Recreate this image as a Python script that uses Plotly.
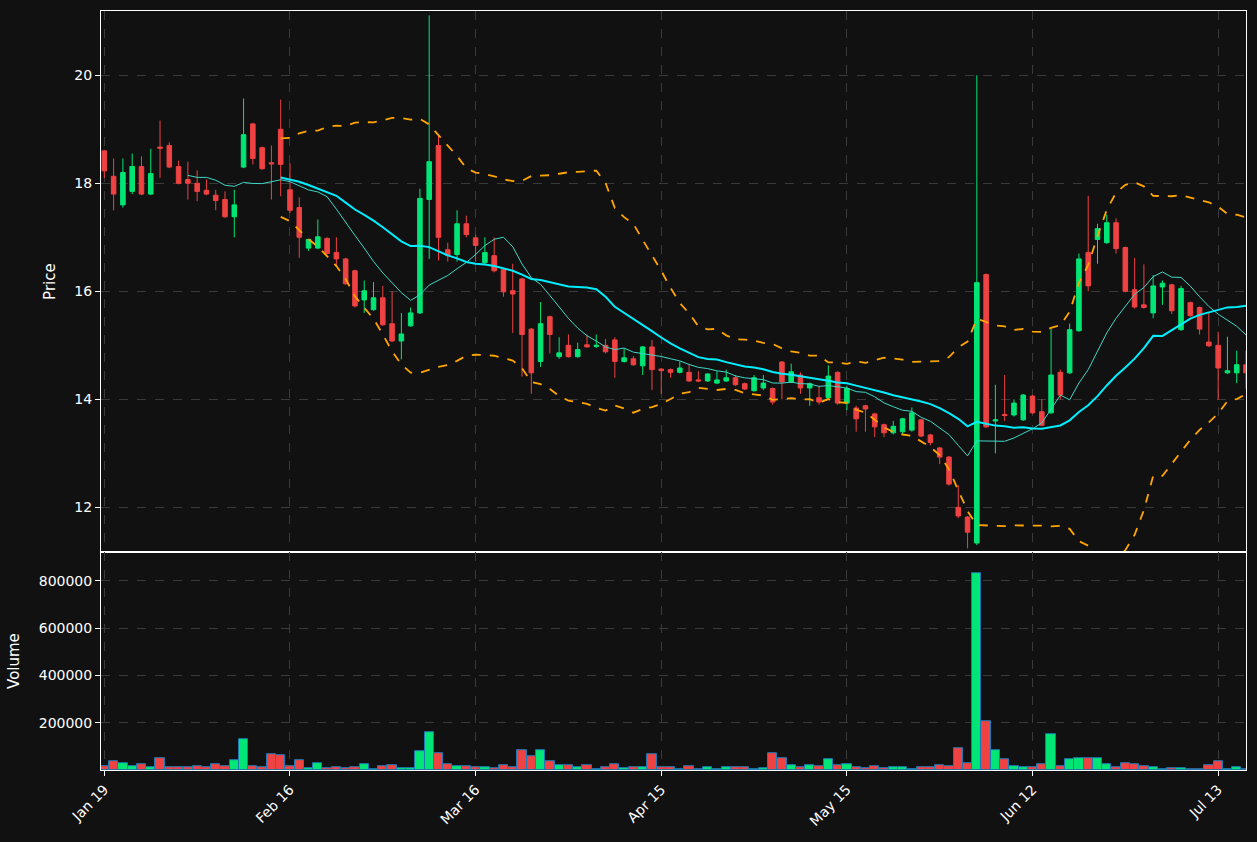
import plotly.graph_objects as go
from plotly.subplots import make_subplots
import pandas as pd

opens = [18.60,18.13,17.60,17.85,18.31,17.80,18.67,18.70,18.31,18.07,18.00,17.87,17.78,17.70,17.38,18.30,19.10,18.66,18.38,19.00,
 17.88,17.55,16.80,16.80,16.98,16.72,16.60,16.38,15.84,15.66,15.88,15.40,15.08,15.36,15.60,17.70,18.70,16.77,16.68,17.25,
 16.99,16.53,16.66,16.40,16.01,16.23,15.30,14.70,15.53,14.79,15.00,14.79,15.01,14.98,15.00,15.10,14.70,14.75,14.62,14.97,
 14.56,14.55,14.50,14.50,14.36,14.34,14.30,14.34,14.40,14.29,14.16,14.21,14.20,14.69,14.32,14.45,14.21,14.03,14.03,14.50,
 13.93,13.84,13.88,13.73,13.53,13.38,13.40,13.43,13.62,13.34,13.10,12.93,12.00,11.82,11.34,16.31,13.60,13.72,13.71,13.62,
 14.06,13.77,13.75,14.50,14.49,15.27,16.72,16.96,16.90,17.27,16.81,16.03,15.75,15.60,16.08,16.12,15.29,15.79,15.70,15.06,
 15.00,14.49,14.49,14.64]
highs = [18.62,18.46,18.46,18.55,18.50,18.64,19.16,18.76,18.42,18.40,18.24,18.07,17.88,17.85,17.88,19.57,19.12,18.68,18.70,19.55,
 18.37,17.74,16.97,17.33,17.00,17.00,16.62,16.40,16.20,16.17,16.10,16.00,15.60,15.70,17.90,21.11,18.90,16.90,17.50,17.40,
 17.05,17.00,17.00,16.42,16.51,16.25,15.32,15.80,15.55,15.15,15.20,15.05,15.20,15.20,15.12,15.15,14.95,14.80,14.99,15.10,
 14.58,14.57,14.70,14.65,14.52,14.48,14.52,14.55,14.45,14.31,14.45,14.45,14.22,14.71,14.66,14.50,14.31,14.25,14.63,14.52,
 14.25,13.88,13.90,13.75,13.55,13.60,13.66,13.85,13.64,13.36,13.12,12.95,12.41,11.84,20.00,16.33,14.27,14.45,14.00,14.10,
 14.08,14.00,15.31,14.55,15.40,16.70,17.77,17.25,17.42,17.35,16.83,16.62,16.50,16.30,16.20,16.14,16.10,15.81,15.72,15.60,
 15.25,15.16,14.90,14.90]
lows = [18.10,17.50,17.55,17.80,17.78,17.78,18.10,18.28,17.98,17.70,17.67,17.78,17.50,17.36,17.00,18.28,18.35,18.25,17.70,17.76,
 17.45,16.62,16.75,16.78,16.68,16.46,16.12,15.70,15.60,15.64,15.36,15.06,14.74,15.34,15.58,16.60,16.57,16.55,16.55,17.00,
 16.55,16.50,16.35,15.90,15.23,14.42,14.10,14.60,14.85,14.75,14.77,14.77,14.96,14.95,14.85,14.40,14.68,14.62,14.45,14.17,
 14.10,14.40,14.48,14.32,14.32,14.32,14.28,14.32,14.25,14.17,14.14,14.17,13.90,14.00,14.30,14.10,13.88,13.90,14.00,13.90,
 13.80,13.40,13.40,13.30,13.30,13.35,13.35,13.40,13.30,13.15,12.80,12.40,11.80,11.24,11.30,13.47,13.00,13.60,13.68,13.60,
 13.73,13.50,13.73,14.00,14.47,15.25,16.00,16.51,16.88,16.70,15.98,15.68,15.68,15.50,15.75,15.58,15.27,15.53,15.20,14.97,
 13.99,14.47,14.30,14.20]
closes = [18.23,17.80,18.20,18.31,17.80,18.18,18.65,18.30,18.00,18.00,17.85,17.80,17.68,17.38,17.60,18.90,18.46,18.27,18.36,18.35,
 17.50,17.00,16.96,17.01,16.70,16.60,16.14,15.73,16.01,15.88,15.38,15.08,15.21,15.60,17.72,18.40,17.00,16.66,17.25,17.05,
 16.85,16.72,16.38,15.99,15.95,15.20,14.49,15.40,15.20,14.86,14.79,14.92,14.97,15.00,14.88,14.70,14.77,14.64,14.97,14.55,
 14.53,14.50,14.58,14.34,14.34,14.47,14.36,14.40,14.27,14.19,14.40,14.30,13.95,14.32,14.51,14.21,14.29,13.95,14.43,13.93,
 14.20,13.64,13.82,13.49,13.38,13.50,13.64,13.75,13.32,13.20,12.93,12.43,11.84,11.54,16.16,13.49,13.62,13.70,13.93,14.08,
 13.75,13.52,14.45,14.08,15.29,16.60,16.10,17.16,17.27,16.79,16.00,15.71,15.70,16.10,16.15,15.64,16.05,15.55,15.30,14.99,
 14.58,14.53,14.64,14.49]
volumes = [17000,36000,27000,18000,23000,13000,48000,14000,10000,14000,18000,10000,23000,18000,40000,129000,18000,10000,65000,61000,
 18000,40000,6000,27000,8000,14000,8000,11000,23000,5000,16000,20000,7000,7000,78000,159000,70000,23000,16000,16000,
 11000,11000,7000,20000,11000,82000,57000,82000,36000,20000,20000,11000,20000,4000,11000,24000,7000,11000,11000,65000,
 11000,11000,4000,16000,4000,11000,4000,11000,11000,11000,3000,7000,71000,50000,20000,11000,20000,16000,46000,20000,
 24000,11000,7000,16000,7000,11000,11000,3000,11000,11000,20000,16000,93000,29000,834000,205000,84000,46000,16000,11000,
 11000,24000,153000,16000,46000,50000,50000,50000,24000,11000,29000,24000,16000,11000,3000,7000,7000,3000,3000,20000,
 37000,3000,11000,3000]
tick_idx = [0, 20, 40, 60, 80, 100, 120]
tick_labels = ["Jan 19", "Feb 16", "Mar 16", "Apr 15", "May 15", "Jun 12", "Jul 13"]

idx = list(range(len(closes)))
s = pd.Series(closes)
ma10 = s.rolling(10).mean()
ma20 = s.rolling(20).mean()
sd20 = s.rolling(20).std(ddof=0)
upper = ma20 + 2 * sd20
lower = ma20 - 2 * sd20

UP, DN = "#00e676", "#ef4242"
vol_colors = [UP if c >= o else DN for o, c in zip(opens, closes)]

fig = make_subplots(rows=2, cols=1, shared_xaxes=True, vertical_spacing=0,
                    row_heights=[0.713, 0.287])
fig.add_trace(go.Candlestick(x=idx, open=opens, high=highs, low=lows, close=closes,
    increasing=dict(line=dict(color=UP, width=1), fillcolor=UP),
    decreasing=dict(line=dict(color=DN, width=1), fillcolor=DN),
    whiskerwidth=0, showlegend=False), row=1, col=1)
fig.add_trace(go.Scatter(x=idx, y=upper, mode="lines", line=dict(color="#ffa500", width=1.8, dash="dash"), showlegend=False), row=1, col=1)
fig.add_trace(go.Scatter(x=idx, y=lower, mode="lines", line=dict(color="#ffa500", width=1.8, dash="dash"), showlegend=False), row=1, col=1)
fig.add_trace(go.Scatter(x=idx, y=ma10, mode="lines", line=dict(color="#40d8c8", width=1), showlegend=False), row=1, col=1)
fig.add_trace(go.Scatter(x=idx, y=ma20, mode="lines", line=dict(color="#00eeff", width=2), showlegend=False), row=1, col=1)
fig.add_trace(go.Bar(x=idx, y=volumes, marker=dict(color=vol_colors, line=dict(color="#1f77b4", width=1)),
                     width=1.0, showlegend=False), row=2, col=1)

axis_common = dict(showline=True, linecolor="white", linewidth=1, mirror=True,
                   gridcolor="#3a3a3a", griddash="dash", zeroline=False,
                   tickfont=dict(color="white", size=14), ticks="outside", tickcolor="white")
fig.update_xaxes(**axis_common, range=[-0.36, 123.0], tickvals=tick_idx, ticktext=tick_labels,
                 rangeslider_visible=False)
fig.update_xaxes(showticklabels=False, row=1, col=1)
fig.update_xaxes(tickangle=-45, row=2, col=1)
fig.update_yaxes(**axis_common)
fig.update_yaxes(range=[11.17, 21.19], tickvals=[12, 14, 16, 18, 20],
                 title=dict(text="Price", font=dict(color="white", size=15)), row=1, col=1)
fig.update_yaxes(range=[0, 922000], tickvals=[200000, 400000, 600000, 800000], tickformat="d",
                 title=dict(text="Volume", font=dict(color="white", size=15)), row=2, col=1)
fig.update_layout(width=1257, height=842, paper_bgcolor="#111111", plot_bgcolor="#111111",
                  margin=dict(l=101, r=11, t=11, b=72), bargap=0,
                  font=dict(family="DejaVu Sans", color="white"))
fig.write_html("out.html", config={"displayModeBar": False},
               post_script="document.body.style.margin='0';document.body.style.background='#111111';")
